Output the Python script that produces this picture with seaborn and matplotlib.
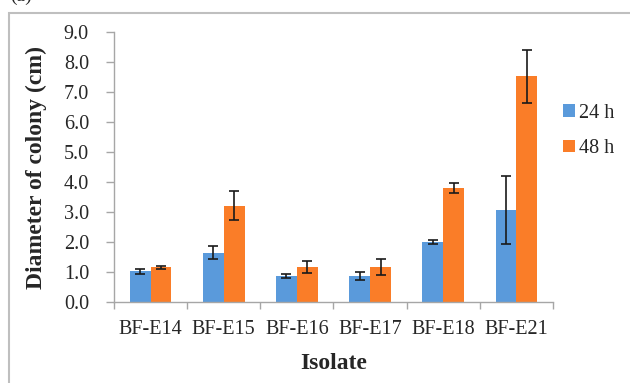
import numpy as np
import pandas as pd
import seaborn as sns
import matplotlib
matplotlib.use("Agg")
from matplotlib import pyplot as plt
from matplotlib.patches import Patch, Rectangle

isolates = ["BF-E14", "BF-E15", "BF-E16", "BF-E17", "BF-E18", "BF-E21"]
times = ["24 h", "48 h"]
mean_24h = [1.02, 1.64, 0.86, 0.87, 2.00, 3.06]
mean_48h = [1.16, 3.21, 1.17, 1.17, 3.79, 7.52]
err_24h = [0.07, 0.22, 0.07, 0.12, 0.07, 1.14]
err_48h = [0.05, 0.49, 0.19, 0.27, 0.17, 0.87]
yticks = [0, 1, 2, 3, 4, 5, 6, 7, 8, 9]

colors = ["#5A9ADB", "#FA7D28"]
serif = ["Liberation Serif", "DejaVu Serif"]


def main():
    df = pd.DataFrame({
        "Isolate": isolates * 2,
        "Time": [times[0]] * len(isolates) + [times[1]] * len(isolates),
        "Diameter": mean_24h + mean_48h,
        "Err": err_24h + err_48h,
    })

    sns.set_style("white")
    plt.rcParams["font.family"] = serif
    fig = plt.figure(figsize=(6.3, 3.83), dpi=100)
    ax = fig.add_axes([114 / 630, 1 - 302 / 383, (553 - 114) / 630, (302 - 32) / 383])

    sns.barplot(data=df, x="Isolate", y="Diameter", hue="Time", order=isolates,
                hue_order=times, palette=colors, width=0.57, errorbar=None,
                saturation=1, linewidth=0, legend=False, ax=ax)

    # error bars at bar centres
    for cont, errs in zip(ax.containers, [err_24h, err_48h]):
        xs = [b.get_x() + b.get_width() / 2 for b in cont]
        ys = [b.get_height() for b in cont]
        ax.errorbar(xs, ys, yerr=errs, fmt="none", ecolor="#1a1a1a",
                    elinewidth=1.2, capsize=3.8, capthick=1.2)

    ax.set_xlim(-0.5, len(isolates) - 0.5)
    ax.set_ylim(0, 9)
    ax.set_yticks(yticks)
    ax.set_yticklabels(["{:.1f}".format(v) for v in yticks], fontsize=14.5)
    ax.set_xticks(range(len(isolates)))
    ax.set_xticklabels(isolates, fontsize=14.5)
    ax.set_xticks(np.arange(-0.5, len(isolates), 1.0), minor=True)
    ax.tick_params(axis="x", which="major", length=0, pad=13)
    ax.tick_params(axis="x", which="minor", length=5, width=1, color="#A6A6A6",
                   direction="out", bottom=True)
    ax.tick_params(axis="y", length=6, width=1, color="#A6A6A6", direction="out",
                   left=True, pad=12)

    for s in ["top", "right"]:
        ax.spines[s].set_visible(False)
    for s in ["left", "bottom"]:
        ax.spines[s].set_color("#A6A6A6")
        ax.spines[s].set_linewidth(1)

    ax.set_xlabel("Isolate", fontsize=17, fontweight="bold", labelpad=10)
    ax.set_ylabel("Diameter of colony (cm)", fontsize=17, fontweight="bold", labelpad=12)

    handles = [Patch(facecolor=c, edgecolor="none") for c in colors]
    fig.legend(handles, times, loc="center left",
               bbox_to_anchor=(563 / 630, 1 - 131 / 383), frameon=False,
               fontsize=14.5, handlelength=0.6, handleheight=0.6,
               handletextpad=0.2, labelspacing=0.8, borderpad=0,
               borderaxespad=0)

    # outer frame of the panel
    fig.add_artist(Rectangle((9 / 630, -0.2), 1.2, 1.2 - 13 / 383,
                             transform=fig.transFigure, fill=False,
                             edgecolor="#BFBFBF", linewidth=1.5))
    # panel label, cut off at the top as in the source figure
    fig.text(10 / 630, 1 - 1 / 383, "(a)", fontsize=14, va="baseline", ha="left")

    fig.savefig("out.png", dpi=100)


if __name__ == "__main__":
    main()
